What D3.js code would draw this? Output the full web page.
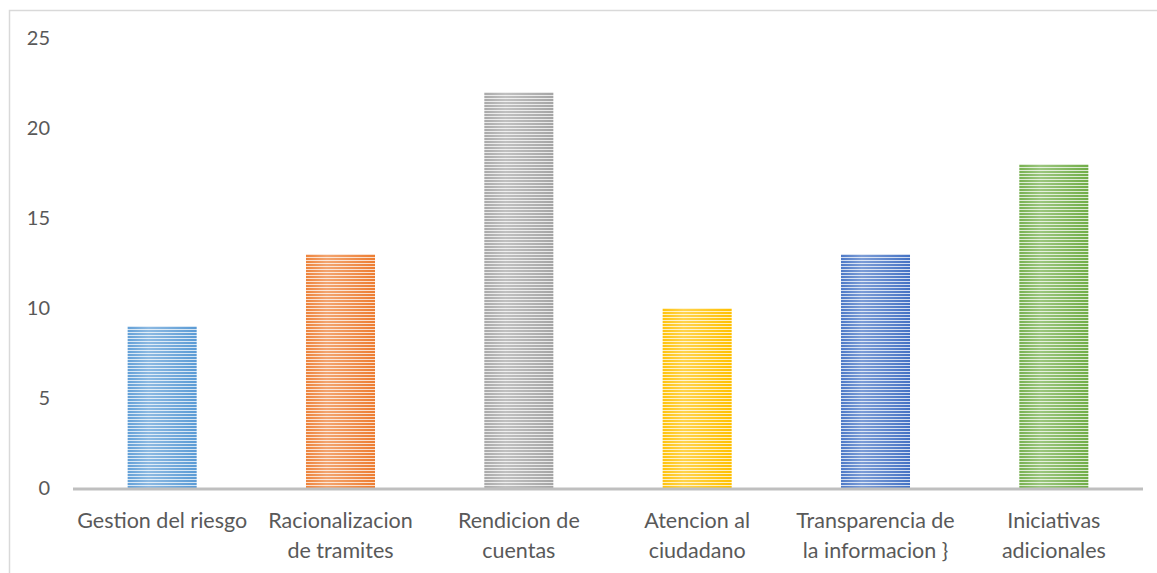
<!DOCTYPE html>
<html>
<head>
<meta charset="utf-8">
<script src="https://cdn.jsdelivr.net/npm/d3@7"></script>
<style>
  body { margin: 0; background: #fff; }
  text { font-family: Lato, "Open Sans", sans-serif; fill: #595959; }
</style>
</head>
<body>
<script>
const width = 1157;
const height = 573;

const categories = [
    'Gestion del riesgo',
    'Racionalizacion de tramites',
    'Rendicion de cuentas',
    'Atencion al ciudadano',
    'Transparencia de la informacion }',
    'Iniciativas adicionales'
]
// lignes des étiquettes comme dans l'original
const labelLines = [
    ['Gestion del riesgo'],
    ['Racionalizacion', 'de tramites'],
    ['Rendicion de', 'cuentas'],
    ['Atencion al', 'ciudadano'],
    ['Transparencia de', 'la informacion }'],
    ['Iniciativas', 'adicionales']
]
const values = [9, 13, 22, 10, 13, 18]
const colors = ['#5b9bd5', '#ed7d31', '#a5a5a5', '#ffc000', '#4472c4', '#70ad47']
const yTicks = [0, 5, 10, 15, 20, 25]

const svg = d3.select('body').append('svg')
    .attr('width', width)
    .attr('height', height)

// cadre du graphique
svg.append('rect')
    .attr('x', 9.5)
    .attr('y', 10.5)
    .attr('width', width + 20)
    .attr('height', height + 20)
    .attr('fill', 'none')
    .attr('stroke', '#d9d9d9')
    .attr('stroke-width', 1.5)

const x = d3.scaleBand()
    .domain(categories)
    .range([73, 1143])
    .paddingInner(0.613)
    .paddingOuter(0.3065)

const y = d3.scaleLinear()
    .domain([0, 25])
    .range([488, 38])

// motifs rayés horizontaux
const defs = svg.append('defs')
categories.forEach((c, i) => {
    const p = defs.append('pattern')
        .attr('id', 'stripe' + i)
        .attr('patternUnits', 'userSpaceOnUse')
        .attr('width', 6)
        .attr('height', 3)
    p.append('rect').attr('width', 6).attr('height', 3).attr('fill', colors[i])
    p.append('rect').attr('y', 2).attr('width', 6).attr('height', 1)
        .attr('fill', '#fff').attr('opacity', 0.75)
})
const shade = defs.append('linearGradient').attr('id', 'shade')
shade.append('stop').attr('offset', '0%').attr('stop-color', '#fff').attr('stop-opacity', 0.05)
shade.append('stop').attr('offset', '30%').attr('stop-color', '#fff').attr('stop-opacity', 0.3)
shade.append('stop').attr('offset', '55%').attr('stop-color', '#fff').attr('stop-opacity', 0.2)
shade.append('stop').attr('offset', '100%').attr('stop-color', '#fff').attr('stop-opacity', 0)

const bars = svg.append('g')
bars.selectAll('rect.bar')
    .data(values)
    .enter()
    .append('rect')
    .attr('class', 'bar')
    .attr('x', (d, i) => x(categories[i]))
    .attr('y', d => y(d))
    .attr('width', x.bandwidth())
    .attr('height', d => y(0) - y(d))
    .attr('fill', (d, i) => `url(#stripe${i})`)

bars.selectAll('rect.shade')
    .data(values)
    .enter()
    .append('rect')
    .attr('class', 'shade')
    .attr('x', (d, i) => x(categories[i]))
    .attr('y', d => y(d))
    .attr('width', x.bandwidth())
    .attr('height', d => y(0) - y(d))
    .attr('fill', 'url(#shade)')

// axe des y (texte seulement)
svg.append('g')
    .selectAll('text')
    .data(yTicks)
    .enter()
    .append('text')
    .attr('x', 50)
    .attr('y', d => y(d))
    .attr('dy', '0.35em')
    .attr('text-anchor', 'end')
    .style('font-size', '20px')
    .text(d => d)

// ligne de base
svg.append('line')
    .attr('x1', 73)
    .attr('x2', 1143)
    .attr('y1', y(0) + 1)
    .attr('y2', y(0) + 1)
    .attr('stroke', '#bfbfbf')
    .attr('stroke-width', 3)

// étiquettes des catégories
const labels = svg.append('g')
    .selectAll('text')
    .data(categories)
    .enter()
    .append('text')
    .attr('text-anchor', 'middle')
    .attr('transform', d => `translate(${x(d) + x.bandwidth() / 2}, 528)`)
    .style('font-size', '21.5px')

labels.selectAll('tspan')
    .data((d, i) => labelLines[i])
    .enter()
    .append('tspan')
    .attr('x', 0)
    .attr('y', (d, j) => j * 30)
    .text(d => d)
</script>
</body>
</html>
